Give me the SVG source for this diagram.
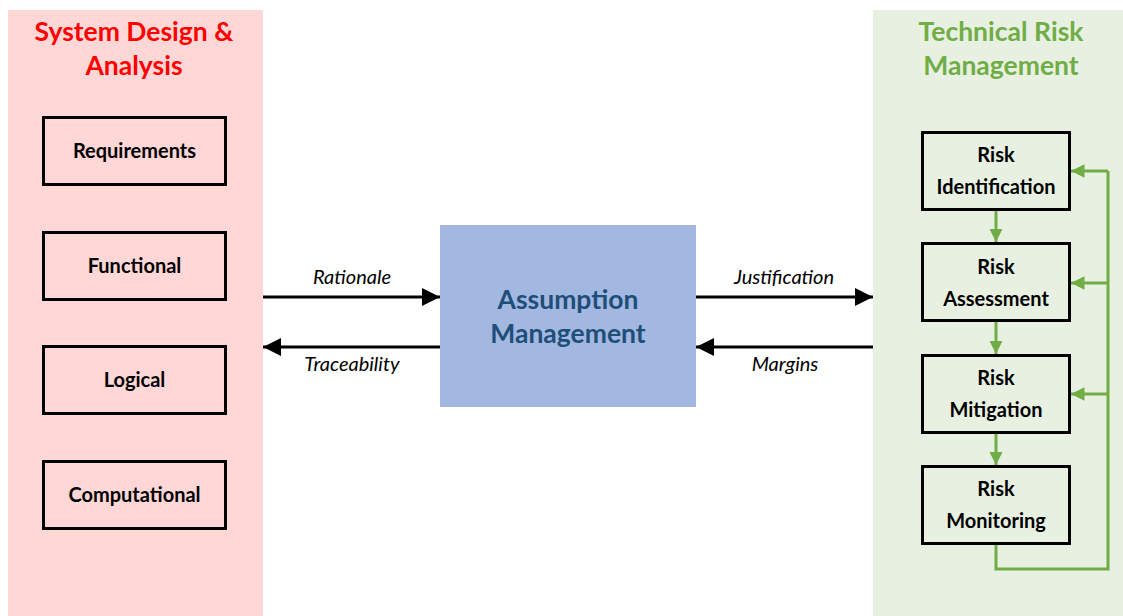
<svg xmlns="http://www.w3.org/2000/svg" width="1123" height="616" viewBox="0 0 1123 616">
  <defs>
    <marker id="ah" viewBox="0 0 10 10" refX="10" refY="5" markerWidth="6" markerHeight="6" markerUnits="strokeWidth" orient="auto">
      <path d="M0,0 L10,5 L0,10 z" fill="#000"/>
    </marker>
    <marker id="gh" viewBox="0 0 10 10" refX="10" refY="5" markerWidth="4.5" markerHeight="4.5" markerUnits="strokeWidth" orient="auto">
      <path d="M0,0 L10,5 L0,10 z" fill="#70AD47"/>
    </marker>
    <style>
      text { font-family: Lato, "Open Sans", "Noto Sans", sans-serif; }
      .title { font-size: 26.5px; font-weight: bold; text-anchor: middle; }
      .box { fill: none; stroke: #000; stroke-width: 3; }
      .lbl { font-size: 20px; font-weight: bold; text-anchor: middle; fill: #000; }
      .edge { font-size: 20px; font-style: italic; text-anchor: middle; fill: #000; }
      .arrow { stroke: #000; stroke-width: 3; fill: none; marker-end: url(#ah); }
      .garrow { stroke: #70AD47; stroke-width: 3; fill: none; marker-end: url(#gh); }
      .gline { stroke: #70AD47; stroke-width: 3; fill: none; }
    </style>
  </defs>

  <rect width="1123" height="616" fill="#fff"/>

  <!-- left panel: system design & analysis -->
  <g id="panel-sda">
    <rect x="8" y="10" width="255" height="606" fill="#FFD7D7"/>
    <text class="title" x="134" y="41" fill="#FF0000">System Design &amp;</text>
    <text class="title" x="134" y="75" fill="#FF0000">Analysis</text>
  </g>
  <g id="node-requirements">
    <rect class="box" x="43.5" y="117.5" width="182" height="67"/>
    <text class="lbl" x="134.5" y="158">Requirements</text>
  </g>
  <g id="node-functional">
    <rect class="box" x="43.5" y="232.5" width="182" height="67"/>
    <text class="lbl" x="134.5" y="273">Functional</text>
  </g>
  <g id="node-logical">
    <rect class="box" x="43.5" y="346.5" width="182" height="67"/>
    <text class="lbl" x="134.5" y="387">Logical</text>
  </g>
  <g id="node-computational">
    <rect class="box" x="43.5" y="461.5" width="182" height="67"/>
    <text class="lbl" x="134.5" y="502">Computational</text>
  </g>

  <!-- right panel: technical risk management -->
  <g id="panel-trm">
    <rect x="873" y="10" width="250" height="606" fill="#E8F1E1"/>
    <text class="title" x="1001" y="41" fill="#70AD47">Technical Risk</text>
    <text class="title" x="1001" y="75" fill="#70AD47">Management</text>
  </g>
  <g id="node-risk-identification">
    <rect class="box" x="922.5" y="132.5" width="147" height="77"/>
    <text class="lbl" x="996" y="162">Risk</text>
    <text class="lbl" x="996" y="194">Identification</text>
  </g>
  <g id="node-risk-assessment">
    <rect class="box" x="922.5" y="243.5" width="147" height="77"/>
    <text class="lbl" x="996" y="274">Risk</text>
    <text class="lbl" x="996" y="306">Assessment</text>
  </g>
  <g id="node-risk-mitigation">
    <rect class="box" x="922.5" y="355.5" width="147" height="77"/>
    <text class="lbl" x="996" y="385">Risk</text>
    <text class="lbl" x="996" y="417">Mitigation</text>
  </g>
  <g id="node-risk-monitoring">
    <rect class="box" x="922.5" y="466.5" width="147" height="77"/>
    <text class="lbl" x="996" y="496">Risk</text>
    <text class="lbl" x="996" y="528">Monitoring</text>
  </g>

  <!-- central node -->
  <g id="node-assumption-management">
    <rect x="440" y="225" width="256" height="182" fill="#A2B8E0"/>
    <text x="568" y="309" font-size="26.5" font-weight="bold" text-anchor="middle" fill="#1F4E79">Assumption</text>
    <text x="568" y="343" font-size="26.5" font-weight="bold" text-anchor="middle" fill="#1F4E79">Management</text>
  </g>

  <!-- connectors -->
  <g id="connectors">
    <line class="arrow" x1="263" y1="297" x2="440" y2="297"/>
    <text class="edge" x="352" y="284">Rationale</text>
    <line class="arrow" x1="440" y1="347" x2="263" y2="347"/>
    <text class="edge" x="352" y="371">Traceability</text>
    <line class="arrow" x1="696" y1="297" x2="873" y2="297"/>
    <text class="edge" x="784" y="284">Justification</text>
    <line class="arrow" x1="873" y1="347" x2="696" y2="347"/>
    <text class="edge" x="785" y="371">Margins</text>

    <line class="garrow" x1="996" y1="211" x2="996" y2="242"/>
    <line class="garrow" x1="996" y1="322" x2="996" y2="354"/>
    <line class="garrow" x1="996" y1="434" x2="996" y2="465"/>

    <polyline class="gline" points="996,545 996,569 1108,569 1108,171"/>
    <line class="garrow" x1="1108" y1="171" x2="1071" y2="171"/>
    <line class="garrow" x1="1108" y1="283" x2="1071" y2="283"/>
    <line class="garrow" x1="1108" y1="394" x2="1071" y2="394"/>
  </g>
</svg>
